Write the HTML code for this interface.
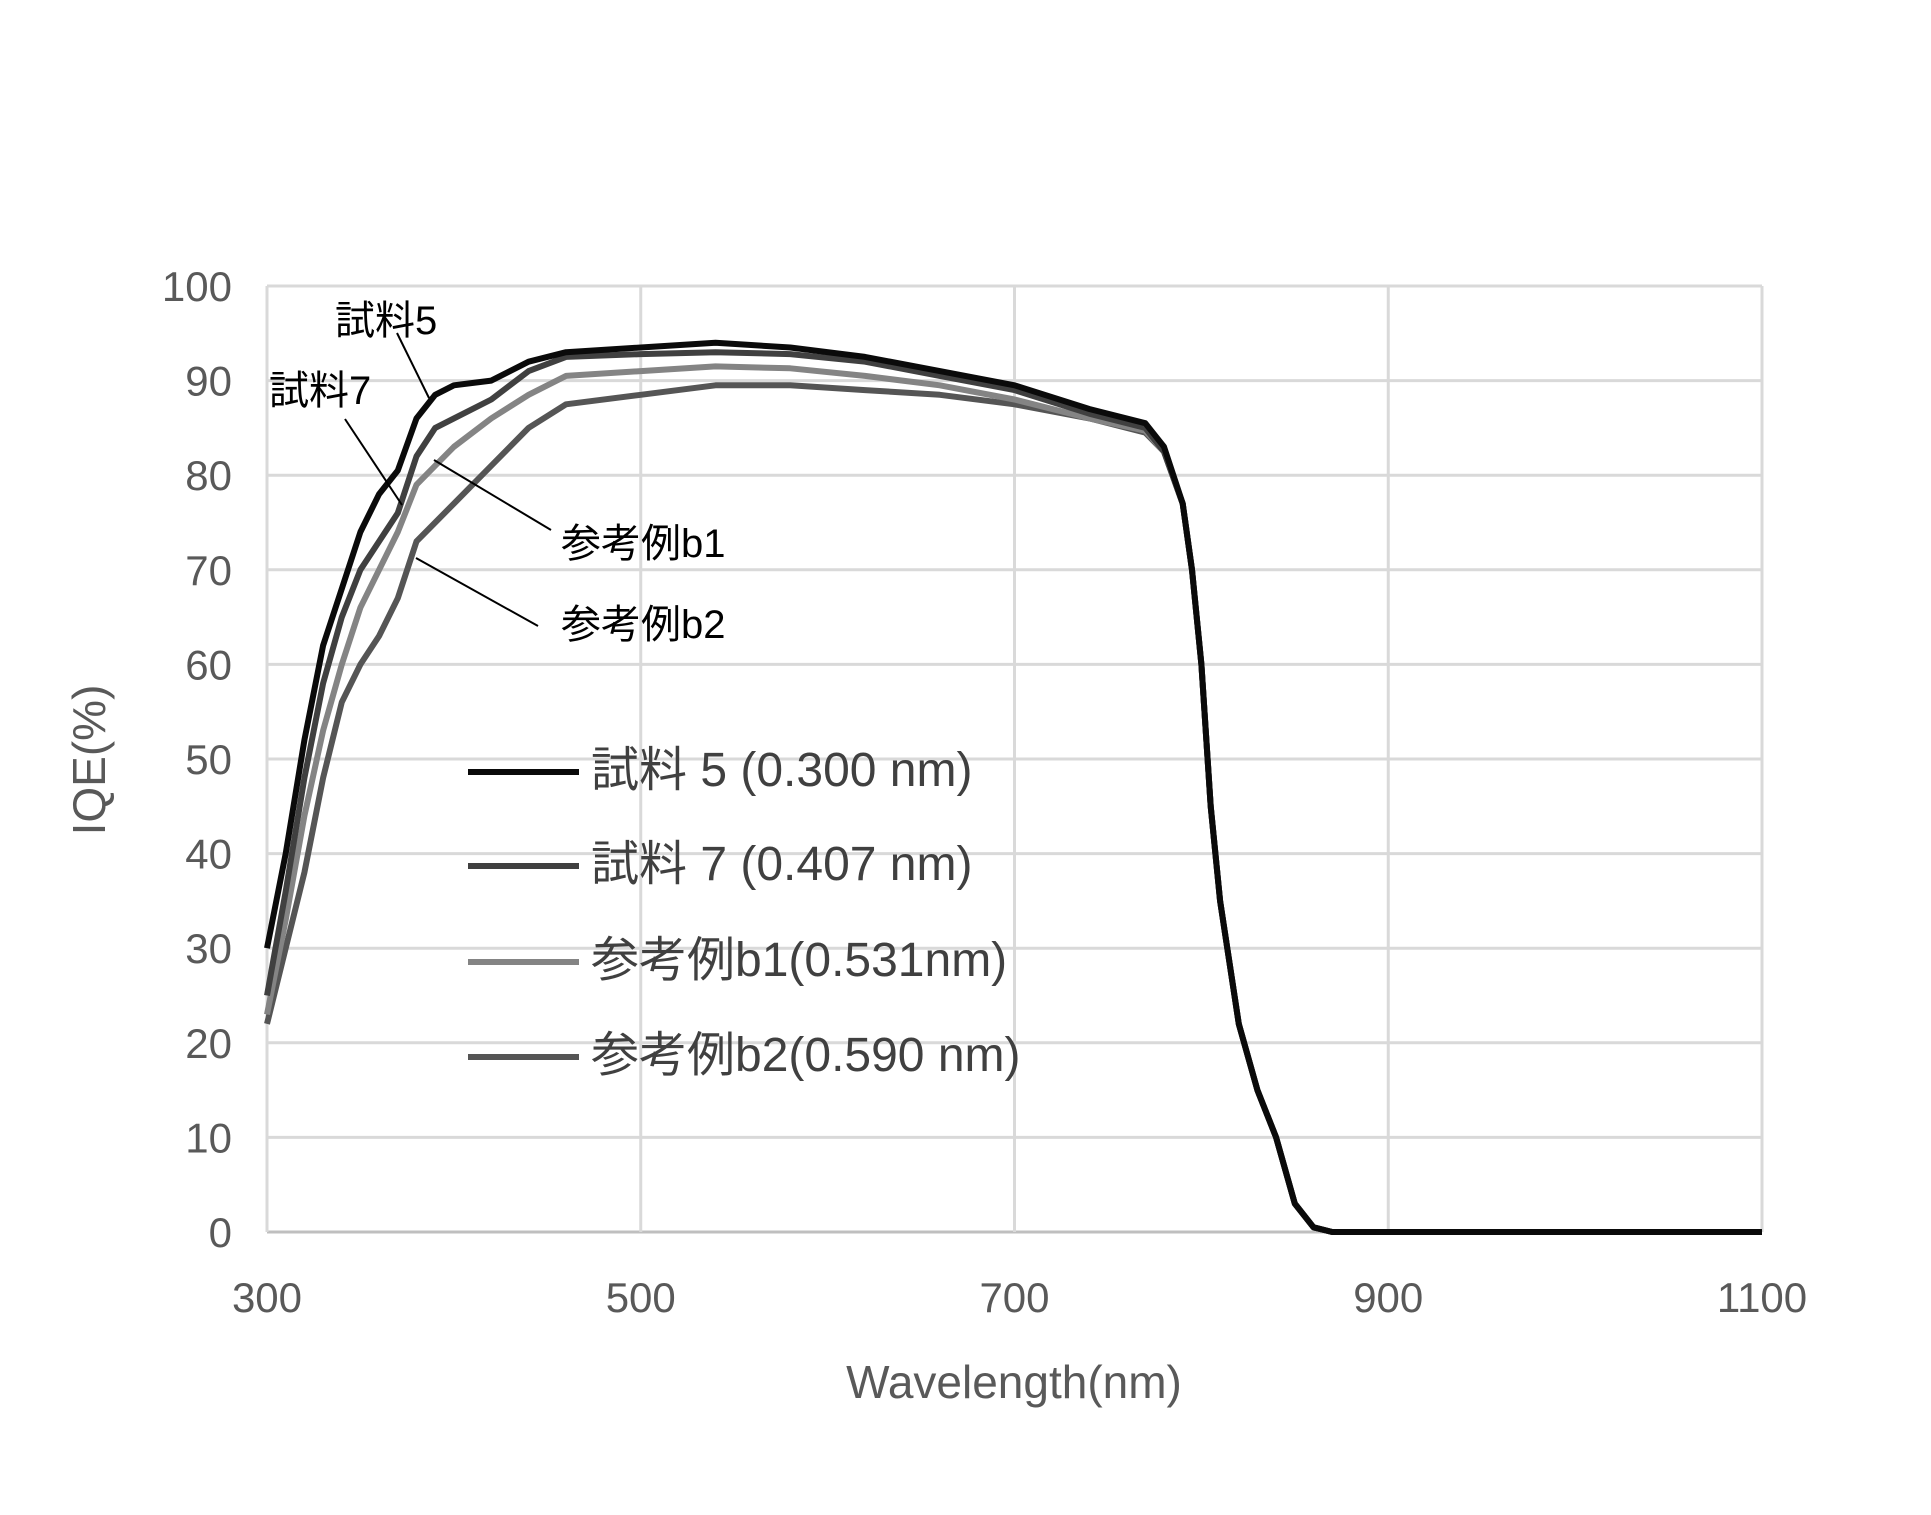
<!DOCTYPE html>
<html><head><meta charset="utf-8"><style>
html,body{margin:0;padding:0;background:#fff;}
svg{display:block;font-family:"Liberation Sans","Noto Sans CJK JP",sans-serif;}
</style></head><body>
<svg id="chart" width="1931" height="1515" viewBox="0 0 1931 1515" xmlns="http://www.w3.org/2000/svg">
<g id="grid"></g>
<g id="series"></g>
<g id="labels"></g>
<text transform="translate(105,760) rotate(-90)" text-anchor="middle" font-size="46" fill="#595959">IQE(%)</text>
<text x="1014" y="1398" text-anchor="middle" font-size="46" fill="#595959">Wavelength(nm)</text>
<g fill="#000" font-size="40">
<text x="335" y="334">試料5</text>
<line x1="397" y1="333" x2="429" y2="398" stroke="#000" stroke-width="2"/>
<text x="269" y="404">試料7</text>
<line x1="345" y1="419" x2="402" y2="505" stroke="#000" stroke-width="2"/>
<text x="561" y="557">参考例b1</text>
<line x1="434" y1="460" x2="551" y2="530" stroke="#000" stroke-width="2"/>
<text x="561" y="638">参考例b2</text>
<line x1="416" y1="558" x2="538" y2="626" stroke="#000" stroke-width="2"/>
</g>
<g id="legend" font-size="48" fill="#404040"></g>
</svg>
<script>
const wavelengths=[300,310,320,330,340,350,360,370,380,390,400,420,440,460,500,540,580,620,660,700,740,770,780,790,795,800,805,810,820,830,840,850,860,870,1100];
const sample5=[30,40,52,62,68,74,78,80.5,86,88.5,89.5,90,92,93,93.5,94,93.5,92.5,91,89.5,87,85.5,83,77,70,60,45,35,22,15,10,3,0.5,0,0];
const sample7=[25,36,48,58,65,70,73,76,82,85,86,88,91,92.5,92.8,93,92.8,92,90.5,89,86.5,85,82.5,77,70,60,45,35,22,15,10,3,0.5,0,0];
const refB1=[23,33,44,53,60,66,70,74,79,81,83,86,88.5,90.5,91,91.5,91.3,90.5,89.5,88,86,84.7,82.5,77,70,60,45,35,22,15,10,3,0.5,0,0];
const refB2=[22,30,38,48,56,60,63,67,73,75,77,81,85,87.5,88.5,89.5,89.5,89,88.5,87.5,86,84.5,82.5,77,70,60,45,35,22,15,10,3,0.5,0,0];
const xTicks=[300,500,700,900,1100];
const yTicks=[0,10,20,30,40,50,60,70,80,90,100];
const seriesNames=["試料 5 (0.300 nm)","試料 7 (0.407 nm)","参考例b1(0.531nm)","参考例b2(0.590 nm)"];
const NS="http://www.w3.org/2000/svg";
const L=267,R=1762,T=286,B=1232;
function xs(w){return L+(w-300)/800*(R-L);}
function ys(v){return B-v/100*(B-T);}
function mk(tag,attrs,parent){const e=document.createElementNS(NS,tag);for(const k in attrs)e.setAttribute(k,attrs[k]);parent.appendChild(e);return e;}
const grid=document.getElementById('grid'),labels=document.getElementById('labels');
yTicks.forEach(v=>{
  const l=mk('line',{x1:L,x2:R,y1:ys(v),y2:ys(v),stroke:v===0?'#bfbfbf':'#d9d9d9','stroke-width':3},grid);
  
  
  const t=mk('text',{x:232,y:ys(v)+15,'text-anchor':'end','font-size':42,fill:'#595959'},labels);
  
  
  t.textContent=v;
});
xTicks.forEach(w=>{
  const l=mk('line',{x1:xs(w),x2:xs(w),y1:T,y2:B,stroke:'#d9d9d9','stroke-width':3},grid);
  
  
  const t=mk('text',{x:xs(w),y:1312,'text-anchor':'middle','font-size':42,fill:'#595959'},labels);
  
  
  t.textContent=w;
});
const sg=document.getElementById('series');
const data=[refB2,refB1,sample7,sample5];
const colors=['#555555','#848484','#404040','#0a0a0a'];
const snames=['series-ref-b2','series-ref-b1','series-sample7','series-sample5'];
data.forEach((arr,i)=>{
  const d=arr.map((v,j)=>(j?'L':'M')+xs(wavelengths[j]).toFixed(1)+','+ys(v).toFixed(1)).join(' ');
  const p=mk('path',{d:d,fill:'none',stroke:colors[i],'stroke-width':6,'stroke-linejoin':'round'},sg);
  
  
});
const lg=document.getElementById('legend');
const lcol=['#0a0a0a','#404040','#848484','#555555'];
const ly=[772,866,962,1057];
seriesNames.forEach((n,i)=>{
  const l=mk('line',{x1:468,x2:579,y1:ly[i],y2:ly[i],stroke:lcol[i],'stroke-width':6},lg);
  
  
  const t=mk('text',{x:591,y:ly[i]+14},lg);
  
  
  t.textContent=n;
});
</script>
</body></html>
